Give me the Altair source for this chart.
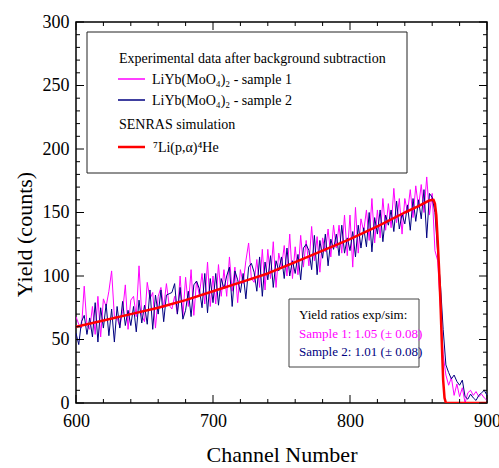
import altair as alt
import pandas as pd

# ---------------- data (one point every 2 channels) ----------------
channels = list(range(600, 901, 2))

sample1 = [
    68, 62, 59, 92, 61,
    58, 76, 54, 84, 52,
    82, 76, 88, 104, 68,
    67, 60, 72, 93, 58,
    81, 84, 68, 108, 69,
    64, 95, 82, 87, 59,
    84, 91, 75, 94, 77,
    74, 84, 70, 100, 68,
    99, 76, 105, 69, 96,
    85, 102, 78, 111, 76,
    100, 78, 109, 84, 105,
    84, 115, 88, 107, 79,
    105, 94, 112, 126, 98,
    95, 113, 91, 121, 89,
    121, 98, 127, 91, 118,
    107, 124, 100, 133, 98,
    123, 101, 132, 107, 128,
    108, 139, 112, 131, 103,
    130, 119, 137, 115, 140,
    122, 140, 118, 148, 116,
    148, 107, 154, 118, 145,
    135, 152, 128, 161, 126,
    152, 130, 161, 136, 157,
    138, 169, 142, 161, 133,
    161, 150, 168, 146, 171,
    154, 172, 150, 178, 148,
    165, 120, 112, 75, 38,
    22, 14, 20, 6, 15,
    5, 12, 0, 8, 10,
    6, 9, 5, 7, 4,
    2,
]

sample2 = [
    55, 46, 64, 69, 54,
    67, 52, 79, 48, 75,
    59, 78, 53, 74, 48,
    76, 59, 80, 61, 73,
    61, 76, 56, 81, 63,
    77, 62, 89, 58, 85,
    70, 89, 64, 85, 86,
    87, 94, 70, 91, 66,
    73, 88, 68, 93, 96,
    90, 75, 102, 71, 98,
    79, 102, 77, 98, 90,
    100, 107, 76, 104, 97,
    87, 102, 82, 107, 110,
    103, 88, 115, 84, 111,
    97, 116, 91, 112, 104,
    115, 98, 122, 100, 112,
    102, 117, 97, 122, 125,
    120, 105, 132, 101, 128,
    114, 133, 108, 129, 121,
    133, 116, 140, 118, 130,
    120, 135, 115, 140, 122,
    138, 123, 150, 119, 146,
    133, 152, 127, 148, 140,
    152, 135, 159, 137, 149,
    141, 156, 136, 161, 143,
    160, 145, 168, 130, 165,
    162, 150, 118, 94, 58,
    30, 24, 19, 22, 17,
    14, 18, 5, 3, 7,
    4, 2, 6, 8, 10,
    6,
]

sim_channel = [600, 620, 640, 660, 680, 700, 720, 740, 760, 780, 800, 820, 840,
               850, 858, 861, 862, 863, 864, 865, 866, 867, 868, 869, 870, 900]
sim_yield = [60, 65, 70, 75, 81, 88, 95, 102, 111, 120, 129, 139, 150,
             155, 159.5, 160, 157, 148, 128, 106, 80, 48, 18, 4, 0, 0]

x_major = [600, 700, 800, 900]
x_minor = [620, 640, 660, 680, 720, 740, 760, 780, 820, 840, 860, 880]
y_major = [0, 50, 100, 150, 200, 250, 300]
y_minor = [v for v in range(10, 300, 10) if v % 50 != 0]

legend_header = "Experimental data after background subtraction"
legend_s1 = "LiYb(MoO\u2084)\u2082 - sample 1"
legend_s2 = "LiYb(MoO\u2084)\u2082 - sample 2"
legend_sim_header = "SENRAS simulation"
legend_sim = "\u2077Li(p,\u03b1)\u2074He"
ratio_title = "Yield ratios exp/sim:"
ratio_s1 = "Sample 1: 1.05 (\u00b1 0.08)"
ratio_s2 = "Sample 2: 1.01 (\u00b1 0.08)"

# ---------------- styling ----------------
W, H = 411, 381
FONT = "Liberation Serif"
MAGENTA = "#ff00ff"
NAVY = "#000080"
RED = "#ff0000"

df = pd.DataFrame({"channel": channels, "s1": sample1, "s2": sample2})
sim_df = pd.DataFrame({"channel": sim_channel, "yield": sim_yield})
one = pd.DataFrame({"a": [0]})

xs = alt.Scale(domain=[600, 900], nice=False, zero=False)
ys = alt.Scale(domain=[0, 300], nice=False)

x_axis = alt.Axis(values=x_major, title="Channel Number", ticks=False, domain=False,
                  grid=False, labelFont=FONT, labelFontSize=18, labelColor="black",
                  labelPadding=9, titleFont=FONT, titleFontSize=22,
                  titleFontWeight="normal", titleColor="black", titlePadding=14,
                  labelFlush=False, format="d")
y_axis = alt.Axis(values=y_major, title="Yield (counts)", ticks=False, domain=False,
                  grid=False, labelFont=FONT, labelFontSize=18, labelColor="black",
                  labelPadding=7, titleFont=FONT, titleFontSize=22,
                  titleFontWeight="normal", titleColor="black", titlePadding=6,
                  titleY=212, labelFlush=False, format="d")

def X(field):
    return alt.X(field, scale=xs, axis=x_axis)

def Y(field):
    return alt.Y(field, scale=ys, axis=y_axis)

line1 = alt.Chart(df).mark_line(color=MAGENTA, strokeWidth=1, clip=True).encode(
    x=X("channel:Q"), y=Y("s1:Q"))
line2 = alt.Chart(df).mark_line(color=NAVY, strokeWidth=1, clip=True).encode(
    x=X("channel:Q"), y=Y("s2:Q"))
sim = alt.Chart(sim_df).mark_line(color=RED, strokeWidth=2.5, clip=True,
                                  strokeJoin="round").encode(
    x=X("channel:Q"), y=Y("yield:Q"))

# inward ticks on all four sides
def xticks(vals, length):
    d = pd.DataFrame({"channel": vals})
    bottom = alt.Chart(d).mark_rule(color="black", strokeWidth=1).encode(
        x=X("channel:Q"), y=alt.value(H), y2=alt.value(H - length))
    top = alt.Chart(d).mark_rule(color="black", strokeWidth=1).encode(
        x=X("channel:Q"), y=alt.value(0), y2=alt.value(length))
    return [bottom, top]

def yticks(vals, length):
    d = pd.DataFrame({"yield": vals})
    left = alt.Chart(d).mark_rule(color="black", strokeWidth=1).encode(
        y=Y("yield:Q"), x=alt.value(0), x2=alt.value(length))
    right = alt.Chart(d).mark_rule(color="black", strokeWidth=1).encode(
        y=Y("yield:Q"), x=alt.value(W), x2=alt.value(W - length))
    return [left, right]

ticks = xticks(x_major, 8) + xticks(x_minor, 4) + yticks(y_major, 8) + yticks(y_minor, 4)

def box(x1, x2, y1, y2, stroke):
    return alt.Chart(one).mark_rect(fill="white", stroke=stroke, strokeWidth=1).encode(
        x=alt.value(x1), x2=alt.value(x2), y=alt.value(y1), y2=alt.value(y2))

def swatch(x1, x2, y, color, width):
    return alt.Chart(one).mark_rule(color=color, strokeWidth=width).encode(
        x=alt.value(x1), x2=alt.value(x2), y=alt.value(y))

def label(x, y, txt, color="black", size=14):
    return alt.Chart(one).mark_text(align="left", baseline="alphabetic", font=FONT,
                                    fontSize=size, color=color).encode(
        x=alt.value(x), y=alt.value(y), text=alt.value(txt))

legend = [
    box(11, 331, 10, 151, "#222222"),
    label(43, 41, legend_header),
    swatch(42, 69, 57, MAGENTA, 1.5),
    label(76, 62, legend_s1),
    swatch(42, 69, 78, NAVY, 1.5),
    label(76, 83, legend_s2),
    label(43, 107, legend_sim_header),
    swatch(42, 69, 125, RED, 2.5),
    label(77, 130, legend_sim),
]

ratios = [
    box(213, 343, 277, 345, "#444444"),
    label(223, 297, ratio_title, size=13),
    label(223, 316, ratio_s1, color=MAGENTA, size=13),
    label(223, 334, ratio_s2, color=NAVY, size=13),
]

chart = alt.layer(line1, line2, sim, *ticks, *legend, *ratios).properties(
    width=W, height=H,
    autosize=alt.AutoSizeParams(type="none"),
    padding={"left": 76, "top": 22, "right": 12, "bottom": 65},
    background="white",
).configure_view(stroke="black", strokeWidth=1.5)

chart.save("out.html", embed_options={"renderer": "svg", "actions": False})
